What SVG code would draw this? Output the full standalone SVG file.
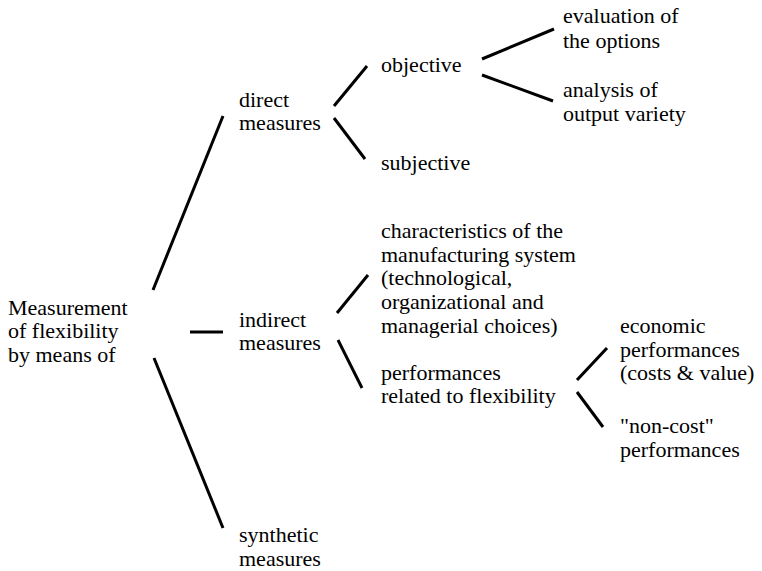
<svg xmlns="http://www.w3.org/2000/svg" width="762" height="571" viewBox="0 0 762 571" font-family="'Liberation Serif', 'Times New Roman', Tinos, 'DejaVu Serif', serif">
<style>
text{font-family:"Liberation Serif","Times New Roman",Tinos,"DejaVu Serif",serif;font-size:22px;fill:#000}
.c line{stroke:#000;stroke-width:3;stroke-linecap:butt}
</style>
<rect width="762" height="571" fill="#fff"/>
<g class="c" id="connectors">
<line x1="153" y1="290" x2="223" y2="116"/>
<line x1="190" y1="332" x2="223" y2="332"/>
<line x1="154" y1="358" x2="223" y2="528"/>
<line x1="334" y1="106" x2="367" y2="66"/>
<line x1="334" y1="118" x2="365" y2="159"/>
<line x1="337" y1="313" x2="368" y2="275"/>
<line x1="338" y1="340" x2="362" y2="388"/>
<line x1="482" y1="59" x2="554" y2="29"/>
<line x1="482" y1="75" x2="553" y2="101"/>
<line x1="577" y1="380" x2="607" y2="348"/>
<line x1="577" y1="392" x2="603" y2="427"/>
</g>
<g id="root"><text x="8" y="315">Measurement</text><text x="8" y="338">of flexibility</text><text x="8" y="362">by means of</text></g>
<g id="direct"><text x="239" y="107">direct</text><text x="239" y="130">measures</text></g>
<g id="indirect"><text x="239" y="327">indirect</text><text x="239" y="350">measures</text></g>
<g id="synthetic"><text x="239" y="542">synthetic</text><text x="239" y="566">measures</text></g>
<g id="objective"><text x="381" y="72">objective</text></g>
<g id="subjective"><text x="381" y="170">subjective</text></g>
<g id="characteristics"><text x="381" y="238">characteristics of the</text><text x="381" y="262">manufacturing system</text><text x="381" y="285">(technological,</text><text x="381" y="309">organizational and</text><text x="381" y="333">managerial choices)</text></g>
<g id="performances"><text x="381" y="380">performances</text><text x="381" y="403">related to flexibility</text></g>
<g id="evaluation"><text x="563" y="23">evaluation of</text><text x="563" y="48">the options</text></g>
<g id="analysis"><text x="563" y="97">analysis of</text><text x="563" y="121">output variety</text></g>
<g id="economic"><text x="620" y="333">economic</text><text x="620" y="357">performances</text><text x="620" y="380">(costs &amp; value)</text></g>
<g id="noncost"><text x="620" y="433">"non-cost"</text><text x="620" y="457">performances</text></g>
</svg>
